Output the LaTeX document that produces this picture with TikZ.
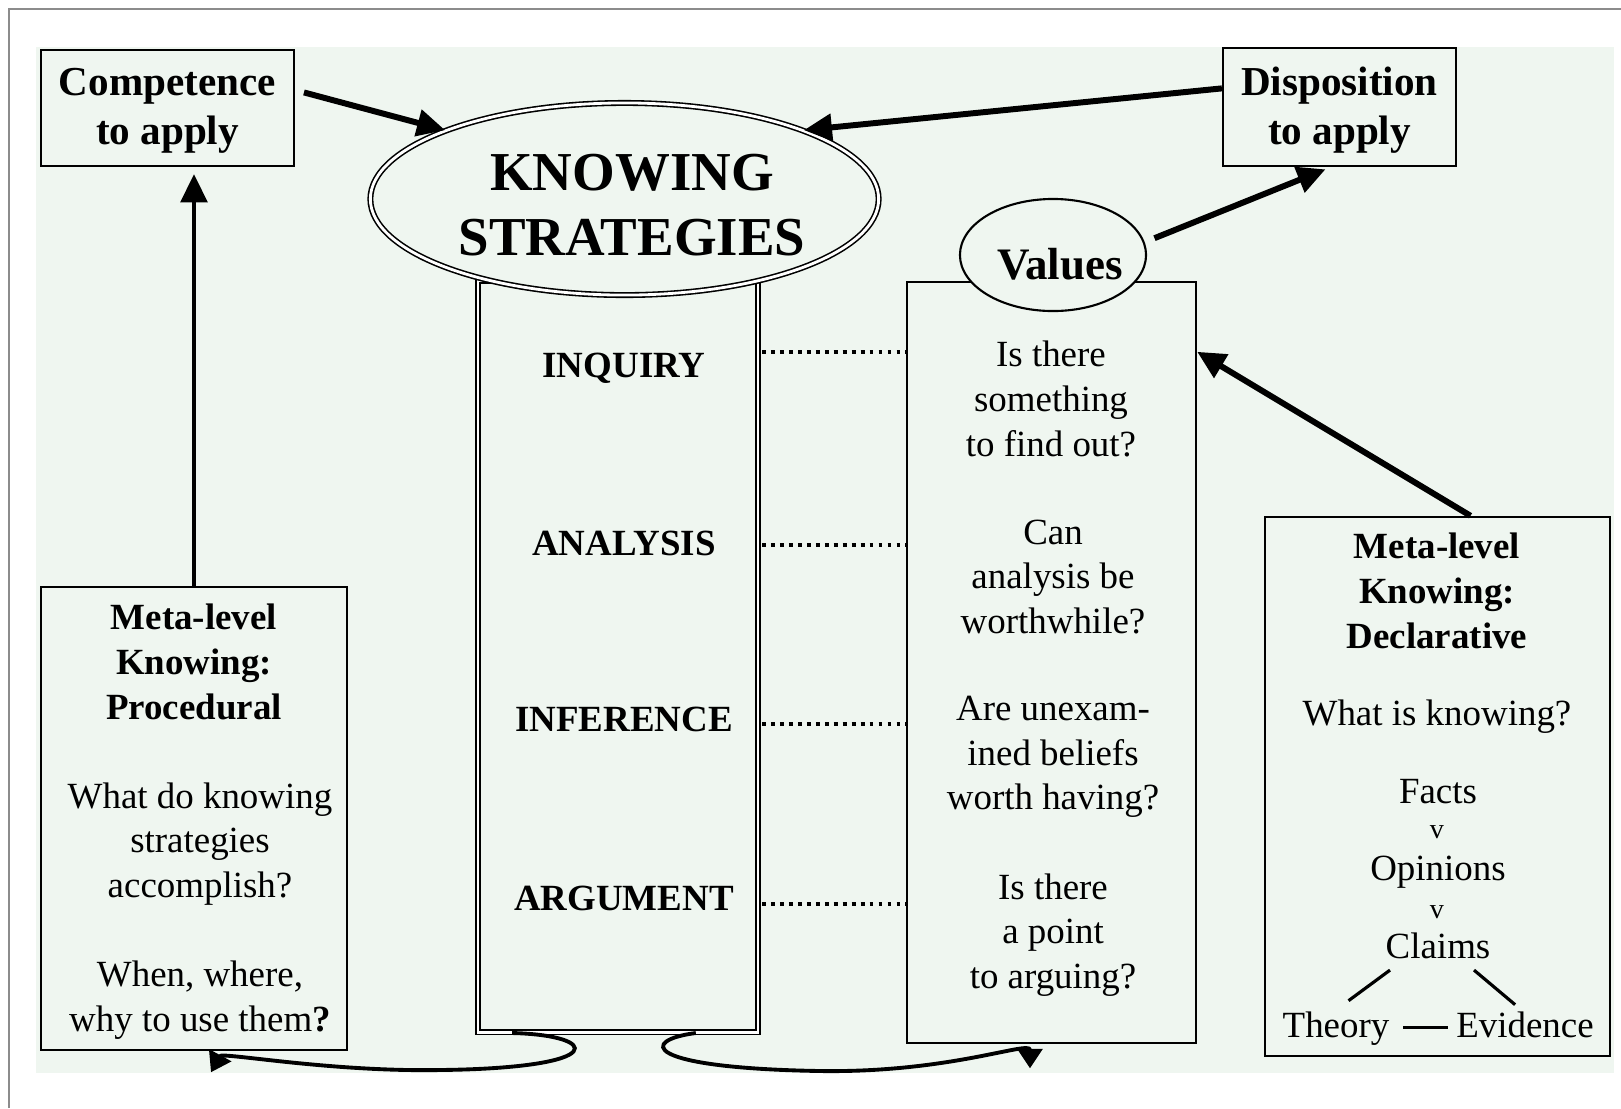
\documentclass[tikz,border=0pt]{standalone}
\usepackage{fontspec}
\setmainfont{Liberation Serif}
\usetikzlibrary{positioning,calc,shapes.geometric,arrows.meta}
\definecolor{bggreen}{RGB}{239,246,240}
\definecolor{framegray}{RGB}{140,140,140}

\begin{document}
\begin{tikzpicture}[
    x=0.01cm, y=-0.01cm,
    box/.style={draw, line width=0.6pt, fill=bggreen, inner sep=0pt},
    dbl/.style={draw, double, line width=0.45pt, double distance=0.8pt, fill=bggreen, inner sep=0pt},
    txt/.style={align=center, font=\fontsize{10.5}{12.7}\selectfont, inner sep=1pt},
    ttl/.style={align=center, font=\fontsize{10.5}{12.7}\selectfont\bfseries, inner sep=1pt},
    word/.style={txt, anchor=base},
    toptxt/.style={align=center, font=\fontsize{11.7}{14}\selectfont\bfseries},
    bigarr/.style={-{Triangle[length=8pt, width=7.5pt]}, line width=1.7pt},
    curvarr/.style={-{Triangle[length=5.5pt, width=7pt]}, line width=1.1pt},
    dotline/.style={line width=1pt, dash pattern=on 1.1pt off 1.45pt}
]

    \useasboundingbox (0,0) rectangle (1621,1108);
    \fill[white] (0,0) rectangle (1621,1108);
    \fill[bggreen] (36,47) rectangle (1614,1073);
    \draw[framegray, line width=0.6pt] (9,1108) -- (9,9) -- (1621,9);

    % Top boxes
    \node[box, minimum width=2.53cm, minimum height=1.16cm] (compnode) at (167.5,108) {};
    \node[toptxt] (comptext) at (167.5,111) {Competence\\to apply};
    \node[box, minimum width=2.33cm, minimum height=1.18cm] (dispnode) at (1339.5,107) {};
    \node[toptxt] (disptext) at (1339.5,110) {Disposition\\to apply};

    % Column of strategies
    \node[dbl, minimum width=2.8cm, minimum height=7.51cm] (col) at (618,656.5) {};
    \node[dbl, ellipse, minimum width=5.08cm, minimum height=1.92cm] (ks) at (624.5,199) {};
    \node[align=center, font=\fontsize{15.6}{18.5}\selectfont\bfseries] (kstext) at (632,205) {KNOWING\\STRATEGIES};

    \node[ttl] (inq) at (624,368) {INQUIRY};
    \node[ttl] (ana) at (624,543) {ANALYSIS};
    \node[ttl] (inf) at (624,719) {INFERENCE};
    \node[ttl] (arg) at (624,898) {ARGUMENT};

    % Values
    \node[box, minimum width=2.89cm, minimum height=7.61cm] (vbox) at (1051.5,662.5) {};
    \node[box, ellipse, minimum width=1.86cm, minimum height=1.12cm] (valsnode) at (1053,255) {};
    \node[font=\fontsize{12.8}{15}\selectfont\bfseries] (valstext) at (1060,264) {Values};

    \node[txt] (q1) at (1051,399) {Is there\\something\\to find out?};
    \node[txt] (q2) at (1053,577) {Can\\analysis be\\worthwhile?};
    \node[txt] (q3) at (1053,757) {Are unexam-\\ined beliefs\\worth having?};
    \node[txt] (q4) at (1053,935) {Is there\\a point\\to arguing?};

    % Dotted links
    \coordinate (d1) at (762,352);
    \coordinate (d2) at (762,545);
    \coordinate (d3) at (762,724);
    \coordinate (d4) at (762,904);
    \draw[dotline] (d1) -- (d1 -| vbox.west);
    \draw[dotline] (d2) -- (d2 -| vbox.west);
    \draw[dotline] (d3) -- (d3 -| vbox.west);
    \draw[dotline] (d4) -- (d4 -| vbox.west);

    % Procedural
    \node[box, minimum width=3.06cm, minimum height=4.63cm] (lbox) at (194,818.5) {};
    \node[ttl] (procname) at (194,662) {Meta-level\\Knowing:\\Procedural};
    \node[txt] (lq1) at (200,844) {What do knowing\\strategies\\accomplish?};
    \node[txt] (lq2) at (200,1000) {When, where,\\why to use them\textbf{?}};

    % Declarative
    \node[box, minimum width=3.45cm, minimum height=5.39cm] (rbox) at (1437.5,786.5) {};
    \node[ttl] (declname) at (1437,591) {Meta-level\\Knowing:\\Declarative};
    \node[word] (rq) at (1437,725.5) {What is knowing?};
    \node[word] (facts) at (1438,803) {Facts};
    \node[word, font=\fontsize{8}{9}\selectfont] (v1) at (1437,838.5) {v};
    \node[word] (opin) at (1438,880.5) {Opinions};
    \node[word, font=\fontsize{8}{9}\selectfont] (v2) at (1437,918.5) {v};
    \node[word] (claims) at (1438,958.5) {Claims};
    \node[word] (theory) at (1336,1037.5) {Theory};
    \node[word] (evid) at (1525,1037.5) {Evidence};

    \draw[line width=0.9pt] ($(claims.south)+(-48,7)$) -- ($(theory.north east)+(-45,-7)$);
    \draw[line width=0.9pt] ($(claims.south)+(36,7)$) -- ($(evid.north west)+(63,-3)$);
    \draw[line width=0.7pt, shorten <=2.8pt, shorten >=1.1pt] ([yshift=2.85pt]theory.base east) -- ([yshift=2.85pt]evid.base west);

    % Arrows
    \draw[bigarr, shorten <=2.6pt] (compnode.8) -- (ks.159);
    \draw[bigarr] (dispnode.171) -- (ks.21);
    \draw[bigarr, shorten <=3pt, shorten >=1.7pt] (valsnode.8) -- (dispnode.262);
    \draw[bigarr, line width=1.3pt, shorten >=2pt] (lbox.north) -- (lbox.north |- compnode.south);
    \draw[bigarr] ([xshift=0.33cm]rbox.north) -- ([yshift=-0.71cm]vbox.north east);

    \draw[curvarr] ([xshift=0.35cm]col.south west) .. controls (600,1035) and (612,1068) .. (440,1070)
        .. controls (330,1072) and (222,1052) .. ([shift={(0.17cm,-0.21cm)}]lbox.south);
    \draw[curvarr] ([xshift=-0.63cm]col.south east) .. controls (640,1040) and (640,1068) .. (820,1071)
        .. controls (950,1073) and (1030,1040) .. ([shift={(-0.215cm,-0.24cm)}]vbox.south);

\end{tikzpicture}
\end{document}
